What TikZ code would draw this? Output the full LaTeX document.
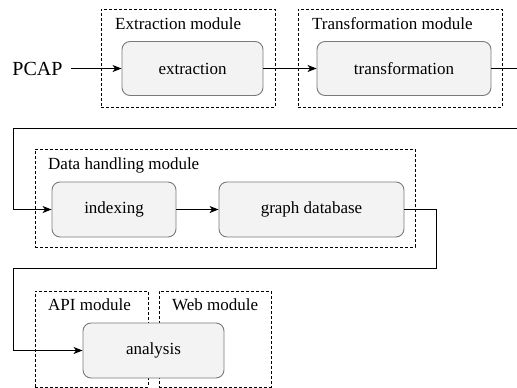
\documentclass[tikz,border=0pt]{standalone}
\usepackage{fontspec}
\newfontfamily\libser{Liberation Serif}
\usetikzlibrary{arrows.meta}
\definecolor{nodefill}{HTML}{F3F3F3}
\definecolor{nodedraw}{HTML}{7A7A7A}
\begin{document}
\begin{tikzpicture}[x=1pt,y=-1pt,font=\libser,
  proc/.style={draw=nodedraw,fill=nodefill,rounded corners=8pt,line width=0.9pt,
    inner sep=0pt,font=\libser\fontsize{17}{20}\selectfont},
  modbox/.style={draw=black,dashed,line width=0.8pt,inner sep=0pt,dash pattern=on 3pt off 2pt},
  modtitle/.style={anchor=west,inner sep=0pt,font=\libser\fontsize{17}{20}\selectfont},
  arr/.style={line width=0.9pt,-{Stealth[length=9pt,width=7pt,inset=2.5pt]}},
  lin/.style={line width=0.9pt}]
\useasboundingbox (0,0) rectangle (517,388);
% titles and labels first
\node[inner sep=0pt,font=\libser\fontsize{20}{24}\selectfont] (pcap) at (37.5,68.5) {PCAP};
\node[modtitle] (exttitle) at (115,24) {Extraction module};
\node[modtitle] (trtitle) at (312,24) {Transformation module};
\node[modtitle] (datatitle) at (48,165) {Data handling module};
\node[modtitle] (apititle) at (48,305) {API module};
\node[modtitle] (webtitle) at (172,305) {Web module};
% module boxes
\node[modbox,minimum width=174,minimum height=98] (extmod) at (188,58) {};
\node[modbox,minimum width=204,minimum height=98] (trmod) at (400,58) {};
\node[modbox,minimum width=380,minimum height=98] (datamod) at (225,198) {};
\node[modbox,minimum width=113,minimum height=96] (apimod) at (91.5,339) {};
\node[modbox,minimum width=112,minimum height=96] (webmod) at (215,339) {};
% process nodes
\node[proc,minimum width=141,minimum height=54] (extraction) at (192.5,68.5) {extraction};
\node[proc,minimum width=174,minimum height=54] (transformation) at (404,68.5) {transformation};
\node[proc,minimum width=124,minimum height=55] (indexing) at (114,209.5) {indexing};
\node[proc,minimum width=185,minimum height=55] (graphdb) at (311.5,209.5) {graph database};
\node[proc,minimum width=141,minimum height=55] (analysis) at (153.5,350.5) {analysis};
% coordinates
\coordinate (r1) at (522,68.5);
\coordinate (r2) at (522,128);
\coordinate (l1) at (13,128);
\coordinate (g1) at (436,209.5);
\coordinate (g2) at (436,268);
\coordinate (l2) at (13,268);
% connectors
\draw[arr] ([xshift=8.5pt]pcap.east) -- (extraction.west);
\draw[arr] (extraction.east) -- (transformation.west);
\draw[lin] (transformation.east) -- (r1) -- (r2) -- (l1);
\draw[arr] (l1) |- (indexing.west);
\draw[arr] (indexing.east) -- (graphdb.west);
\draw[lin] (graphdb.east) -- (g1) -- (g2) -- (l2);
\draw[arr] (l2) |- (analysis.west);
\end{tikzpicture}
\end{document}
